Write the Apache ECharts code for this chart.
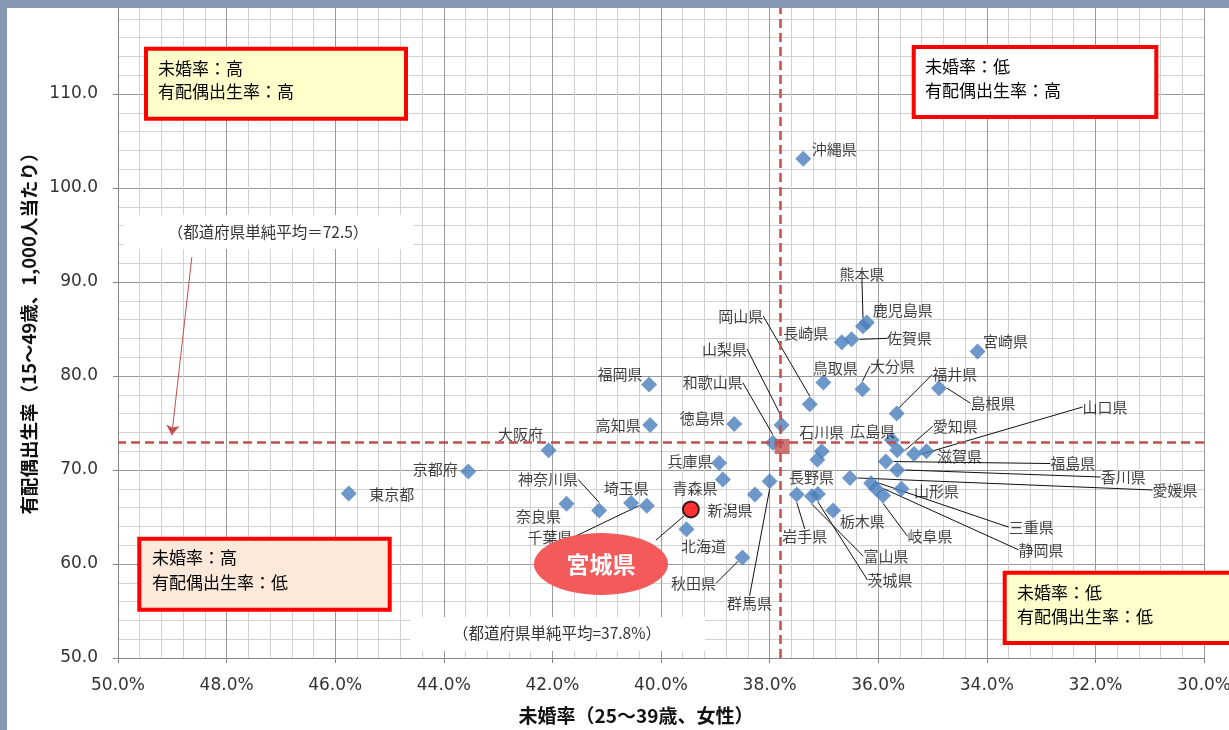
<!DOCTYPE html>
<html><head><meta charset="utf-8">
<script src="https://cdn.jsdelivr.net/npm/echarts@6/dist/echarts.min.js"></script>
<style>html,body{margin:0;padding:0;background:#fff}#c{width:1229px;height:730px}</style>
</head><body><div id="c"></div>
<script>
// ---- data ----
const prefectures = ['北海道','青森県','岩手県','宮城県','秋田県','山形県','福島県','茨城県','栃木県','群馬県',
  '埼玉県','千葉県','東京都','神奈川県','新潟県','富山県','石川県','福井県','山梨県','長野県',
  '岐阜県','静岡県','愛知県','三重県','滋賀県','京都府','大阪府','兵庫県','奈良県','和歌山県',
  '鳥取県','島根県','岡山県','広島県','山口県','徳島県','香川県','愛媛県','高知県','福岡県',
  '佐賀県','長崎県','熊本県','大分県','宮崎県','鹿児島県','沖縄県'];
const unmarriedRate = [39.53,38.86,37.50,39.45,38.50,35.57,35.86,37.11,36.83,38.00,
  40.55,40.26,45.75,41.14,38.27,37.22,37.04,35.66,37.78,37.12,
  35.91,36.04,35.65,36.13,35.11,43.55,42.07,38.93,41.74,37.94,
  37.01,34.88,37.26,35.75,35.34,38.65,35.65,36.52,40.20,40.22,
  36.49,36.67,36.28,36.29,34.17,36.21,37.38];
const birthRate = [63.7,69.0,67.4,65.8,60.7,68.0,70.9,67.45,65.7,68.8,
  66.5,66.2,67.5,65.7,67.4,67.2,72.0,76.0,74.8,71.1,
  67.3,68.0,72.1,68.6,72.0,69.85,72.1,70.75,66.4,72.9,
  79.3,78.7,77.0,73.2,71.7,74.9,70.0,69.15,74.8,79.1,
  83.9,83.6,85.3,78.6,82.6,85.7,103.1];
const highlightName = '宮城県';
const avgUnmarried = 37.8;          // vertical dashed line
const avgBirthLine = 72.9;          // horizontal dashed line (as drawn)
const avgPoint = [37.77, 72.5];     // red square
const avgBirthText = '（都道府県単純平均＝72.5）';
const avgUnmarriedText = '（都道府県単純平均=37.8%）';

// ---- label layout (style, not data) ----
const labelOffsets = {
 '沖縄県':[31,-10],'熊本県':[-1,-52],'鹿児島県':[36,-12],'佐賀県':[58,-1],'長崎県':[-36,-9],'宮崎県':[28,-10],
 '岡山県':[-69,-88],'山梨県':[-57,-76],'和歌山県':[-60,-60],'福岡県':[-29,-10],'高知県':[-32,0],'徳島県':[-32,-6],
 '鳥取県':[12,-14],'大分県':[30,-23],'福井県':[58,-39],'島根県':[54,15],'山口県':[191,-47],'愛知県':[58,-24],
 '広島県':[-19,-9],'石川県':[0,-19],'滋賀県':[33,5],'福島県':[187,2],'香川県':[226,7],'愛媛県':[325,12],
 '長野県':[-6,18],'山形県':[35,2],'三重県':[160,44],'静岡県':[165,61],'岐阜県':[47,41],'栃木県':[29,11],
 '岩手県':[8,42],'富山県':[74,60],'茨城県':[72,86],'群馬県':[-20,122],'秋田県':[-49,26],'北海道':[17,17],
 '新潟県':[-25,16],'青森県':[-28,9],'兵庫県':[-29,-2],'埼玉県':[-5,-15],'千葉県':[-97,32],'神奈川県':[-51,-31],
 '奈良県':[-28,12],'東京都':[43,1],'京都府':[-33,-2],'大阪府':[-28,-16]
};
const leaderNames = new Set(['熊本県','佐賀県','岡山県','山梨県','和歌山県','大分県','福井県','島根県','山口県',
 '愛知県','福島県','香川県','愛媛県','三重県','静岡県','岐阜県','岩手県','富山県','茨城県','群馬県','秋田県',
 '千葉県','神奈川県']);

const FONT = '"Noto Sans CJK JP", sans-serif';
const NUMFONT = '"DejaVu Sans", sans-serif';

const mainNames = [];
const mainData = [];
let hlData = [];
prefectures.forEach((n, i) => {
  if (n === highlightName) { hlData.push({name: n, value: [unmarriedRate[i], birthRate[i]]}); return; }
  mainNames.push(n);
  mainData.push({name: n, value: [unmarriedRate[i], birthRate[i]], labelLine: {show: leaderNames.has(n)}});
});

function box(x, y, w, h, fill, lines, tx, ty, lh) {
  return [
    {type:'rect', z:100, shape:{x:x, y:y, width:w, height:h}, style:{fill:fill, stroke:'#ff0000', lineWidth:4}},
    {type:'text', z:101, x:tx, y:ty, style:{text:lines, font:'17px ' + FONT, fill:'#000', lineHeight:lh}}
  ];
}

const chart = echarts.init(document.getElementById('c'));
chart.setOption({
  animation: false,
  backgroundColor: '#fff',
  grid: {left: 118, right: 25, top: 0, bottom: 72, outerBoundsMode: 'none', containLabel: false},
  xAxis: {
    type: 'value', min: 30, max: 50, interval: 2, inverse: true,
    name: '未婚率（25～39歳、女性）', nameLocation: 'middle', nameGap: 48,
    nameTextStyle: {fontSize: 19, fontWeight: 'bold', color: '#111', fontFamily: FONT, padding: [0, 50, 0, 0]},
    axisLabel: {formatter: v => v.toFixed(1) + '%', margin: 19, fontSize: 17, color: '#333', fontFamily: NUMFONT},
    axisLine: {lineStyle: {color: '#868686'}},
    axisTick: {show: true, length: 5, lineStyle: {color: '#868686'}},
    splitLine: {lineStyle: {color: '#9a9a9a'}},
    minorTick: {show: false, splitNumber: 5},
    minorSplitLine: {show: true, lineStyle: {color: '#d2d2d2'}}
  },
  yAxis: {
    type: 'value', min: 50, max: 120, interval: 10,
    name: '有配偶出生率（15～49歳、1,000人当たり）', nameLocation: 'middle', nameGap: 79,
    nameTextStyle: {fontSize: 18.5, fontWeight: 'bold', color: '#111', fontFamily: FONT},
    axisLabel: {formatter: v => v >= 120 ? '' : v.toFixed(1), margin: 20, fontSize: 17, color: '#333', fontFamily: NUMFONT},
    axisLine: {show: true, lineStyle: {color: '#868686'}},
    axisTick: {show: true, length: 5, lineStyle: {color: '#868686'}},
    splitLine: {lineStyle: {color: '#9a9a9a'}},
    minorTick: {show: false, splitNumber: 5},
    minorSplitLine: {show: true, lineStyle: {color: '#d2d2d2'}}
  },
  series: [
    {
      type: 'scatter', name: '都道府県', z: 3,
      symbol: 'diamond', symbolSize: 16,
      itemStyle: {color: '#4a7ebb'},
      data: mainData,
      label: {show: true, position: 'inside', formatter: '{b}', fontSize: 15, color: '#111', fontFamily: FONT},
      labelLine: {show: false, lineStyle: {color: '#111', width: 1}},
      labelLayout: function (p) {
        const o = labelOffsets[mainNames[p.dataIndex]] || [0, -18];
        return {dx: o[0], dy: o[1]};
      },
      markLine: {
        silent: true, symbol: 'none', label: {show: false},
        lineStyle: {color: '#c0504d', type: [9, 5], width: 2.5},
        data: [{xAxis: avgUnmarried}, {yAxis: avgBirthLine}]
      }
    },
    {
      type: 'scatter', name: '平均', z: 4, symbol: 'rect', symbolSize: 15,
      itemStyle: {color: '#c0504d'}, data: [avgPoint],
      markLine: {
        silent: true, symbol: ['none', 'arrow'], symbolSize: 10, label: {show: false},
        lineStyle: {color: '#c0504d', type: 'solid', width: 1},
        data: [[{coord: [48.64, 92.66]}, {coord: [49.01, 73.7]}]]
      }
    },
    {
      type: 'scatter', name: highlightName, z: 5, symbol: 'circle', symbolSize: 16,
      itemStyle: {color: '#ff0000', borderColor: '#000', borderWidth: 2}, data: hlData
    }
  ],
  graphic: [
    ...box(146, 48.7, 260, 70, '#ffffcc', '未婚率：高\n有配偶出生率：高', 158, 57, 23),
    ...box(913.7, 47, 242.6, 70, '#ffffff', '未婚率：低\n有配偶出生率：高', 925, 55, 24),
    ...box(139.3, 538.7, 250.4, 71, '#fde9d9', '未婚率：高\n有配偶出生率：低', 152, 545, 25),
    ...box(1004.7, 572.7, 240, 70.3, '#ffffcc', '未婚率：低\n有配偶出生率：低', 1017, 580.5, 24),
    {type:'rect', z:100, shape:{x:124, y:215, width:290, height:34}, style:{fill:'#fff'}},
    {type:'text', z:101, x:268, y:232, style:{text:avgBirthText, font:'15.5px ' + FONT, fill:'#333', align:'center', verticalAlign:'middle'}},
    {type:'rect', z:100, shape:{x:410, y:617, width:295, height:34}, style:{fill:'#fff'}},
    {type:'text', z:101, x:557, y:633, style:{text:avgUnmarriedText, font:'15.5px ' + FONT, fill:'#333', align:'center', verticalAlign:'middle'}},
    {type:'line', z:100, shape:{x1:656, y1:540, x2:684, y2:516}, style:{stroke:'#111', lineWidth:1}},
    {type:'ellipse', z:101, shape:{cx:601, cy:564, rx:67, ry:31}, style:{fill:'#f35b5b'}},
    {type:'text', z:102, x:601, y:564, style:{text:'宮城県', font:'bold 23px ' + FONT, fill:'#fff', align:'center', verticalAlign:'middle'}},
    {type:'rect', z:200, shape:{x:0, y:0, width:1229, height:8}, style:{fill:'#8597b1'}},
    {type:'rect', z:200, shape:{x:0, y:0, width:7, height:730}, style:{fill:'#8597b1'}}
  ]
});
</script></body></html>
